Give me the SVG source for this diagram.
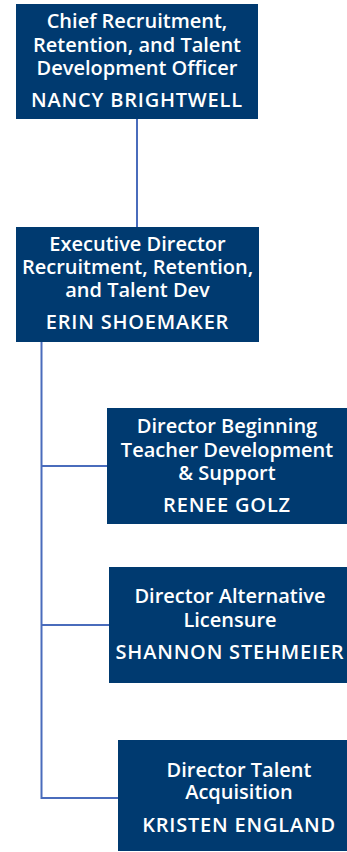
<svg xmlns="http://www.w3.org/2000/svg" width="347" height="852" viewBox="0 0 347 852">
<style>
.box{fill:#003a70;}
.t{font-family:"Open Sans",Lato,"DejaVu Sans",sans-serif;font-weight:600;font-size:20px;fill:#ffffff;text-anchor:middle;}
.n{letter-spacing:0.8px;}
.c{stroke:#4a6cbc;stroke-width:2;fill:none;}
</style>
<rect width="347" height="852" fill="#ffffff"/>
<g id="connectors">
<line class="c" x1="137" y1="119" x2="137" y2="227"/>
<path class="c" d="M41.5 342 V798 H118"/>
<line class="c" x1="41.5" y1="466" x2="107" y2="466"/>
<line class="c" x1="41.5" y1="625" x2="109" y2="625"/>
</g>
<g id="n1">
<rect class="box" x="16" y="4" width="242" height="115"/>
<text class="t" x="137" y="28">Chief Recruitment,</text>
<text class="t" x="137" y="52">Retention, and Talent</text>
<text class="t" x="137" y="75">Development Officer</text>
<text class="t n" x="137" y="107">NANCY BRIGHTWELL</text>
</g>
<g id="n2">
<rect class="box" x="16" y="227" width="243" height="115"/>
<text class="t" x="137.5" y="251">Executive Director</text>
<text class="t" x="137.5" y="274">Recruitment, Retention,</text>
<text class="t" x="137.5" y="297">and Talent Dev</text>
<text class="t n" x="137.5" y="329">ERIN SHOEMAKER</text>
</g>
<g id="n3">
<rect class="box" x="107" y="408" width="240" height="116"/>
<text class="t" x="227" y="433">Director Beginning</text>
<text class="t" x="227" y="457">Teacher Development</text>
<text class="t" x="227" y="480">&amp; Support</text>
<text class="t n" x="227" y="512">RENEE GOLZ</text>
</g>
<g id="n4">
<rect class="box" x="109" y="567" width="242" height="116"/>
<text class="t" x="230" y="603">Director Alternative</text>
<text class="t" x="230" y="627">Licensure</text>
<text class="t n" x="230" y="659">SHANNON STEHMEIER</text>
</g>
<g id="n5">
<rect class="box" x="118" y="740" width="242" height="111"/>
<text class="t" x="239" y="777">Director Talent</text>
<text class="t" x="239" y="799">Acquisition</text>
<text class="t n" x="239" y="832">KRISTEN ENGLAND</text>
</g>
</svg>
